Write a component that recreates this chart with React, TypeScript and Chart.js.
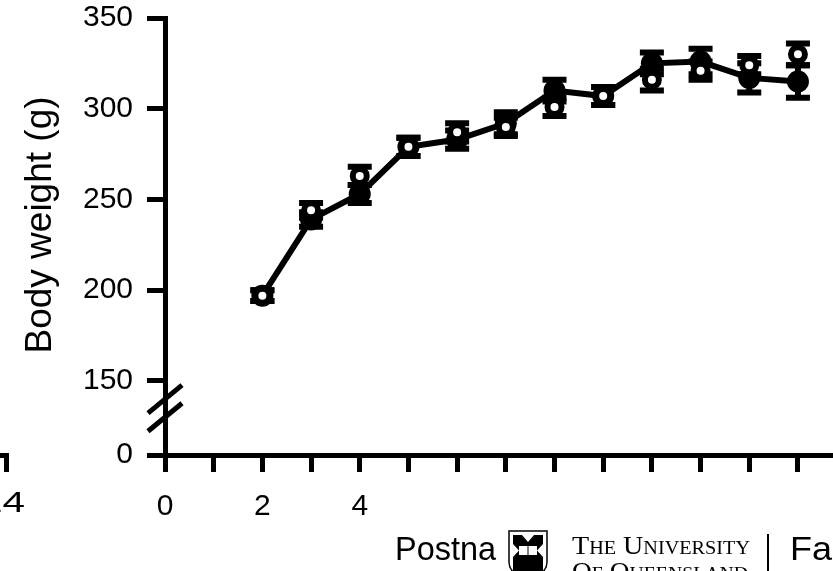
import React, { useEffect, useRef } from 'react';
import { Chart, registerables } from 'chart.js';

Chart.register(...registerables);

// ---- data ----
const weeks = [2, 3, 4, 5, 6, 7, 8, 9, 10, 11, 12, 13];
const filledMean = [197, 239, 253, 279, 283, 292, 310, 307, 325, 326, 317, 315];
const filledSem = [3, 4, 5, 5, 5, 6, 6, 5, 6, 7, 8, 9];
const openMean = [197, 244, 263, 279, 287, 290, 301, 307, 316, 321, 324, 330];
const openSem = [3, 4, 5, 5, 5, 5, 5, 5, 6, 5, 5, 6];

// ---- axes / ticks ----
const xTicks = [0, 1, 2, 3, 4, 5, 6, 7, 8, 9, 10, 11, 12, 13];
const xTickLabelWeeks = [0, 2, 4];
const yTickValues = [150, 200, 250, 300, 350];
const Y_BREAK_BASE = 109.2; // axis position that carries the "0" label (broken axis)
const Y_MAX = 350;
const X_MAX = 13.72;
const breakMarkValues = [140, 130];
const yTitle = 'Body weight (g)';

const FONT = '"Liberation Sans", Arial, Helvetica, sans-serif';
const SERIF = '"Liberation Serif", "Times New Roman", serif';

function drawFitText(ctx: CanvasRenderingContext2D, text: string, x: number, y: number, width: number) {
  const m = ctx.measureText(text).width;
  ctx.save();
  ctx.translate(x, y);
  ctx.scale(width / m, 1);
  ctx.fillText(text, 0, 0);
  ctx.restore();
}

export default function App() {
  const ref = useRef<HTMLCanvasElement>(null);

  useEffect(() => {
    const canvas = ref.current!;
    const sems = [openSem, filledSem];
    const means = [openMean, filledMean];

    const errorBars = {
      id: 'errorBars',
      beforeDatasetsDraw(chart: any) {
        const { ctx } = chart;
        const xs = chart.scales.x;
        const ys = chart.scales.y;
        ctx.save();
        ctx.strokeStyle = '#000';
        ctx.lineWidth = 6;
        ctx.lineCap = 'butt';
        for (let d = 0; d < means.length; d++) {
          for (let i = 0; i < weeks.length; i++) {
            const x = xs.getPixelForValue(weeks[i]);
            const yHi = ys.getPixelForValue(means[d][i] + sems[d][i]);
            const yLo = ys.getPixelForValue(means[d][i] - sems[d][i]);
            ctx.beginPath();
            ctx.moveTo(x, yHi);
            ctx.lineTo(x, yLo);
            ctx.moveTo(x - 12, yHi);
            ctx.lineTo(x + 12, yHi);
            ctx.moveTo(x - 12, yLo);
            ctx.lineTo(x + 12, yLo);
            ctx.stroke();
          }
        }
        ctx.restore();
      },
    };

    const decor = {
      id: 'decor',
      afterDraw(chart: any) {
        const { ctx, chartArea } = chart;
        const ys = chart.scales.y;
        ctx.save();
        // axis break marks
        ctx.strokeStyle = '#000';
        ctx.lineWidth = 5;
        for (const v of breakMarkValues) {
          const y = ys.getPixelForValue(v);
          const x = chartArea.left;
          ctx.beginPath();
          ctx.moveTo(x - 17, y + 14);
          ctx.lineTo(x + 17, y - 14);
          ctx.stroke();
        }
        ctx.fillStyle = '#000';

        // y axis title
        ctx.save();
        ctx.translate(41, 225);
        ctx.rotate(-Math.PI / 2);
        ctx.font = `37px ${FONT}`;
        ctx.textAlign = 'center';
        ctx.textBaseline = 'middle';
        ctx.fillText(yTitle, 0, 0);
        ctx.restore();

        // neighbouring panel remnants
        ctx.fillRect(0, 453, 9, 5);
        ctx.fillRect(4, 453, 5, 19);
        ctx.font = `30px ${FONT}`;
        ctx.textAlign = 'left';
        ctx.textBaseline = 'middle';
        {
          const w = ctx.measureText('14').width * 1.35;
          drawFitText(ctx, '14', 25 - w, 504, w);
        }

        // x axis title (partially covered)
        ctx.font = `33px ${FONT}`;
        drawFitText(ctx, 'Postna', 395, 551, 101);

        // logo crest
        ctx.lineWidth = 1.5;
        ctx.beginPath();
        ctx.moveTo(509, 531);
        ctx.lineTo(547, 531);
        ctx.lineTo(547, 562);
        ctx.quadraticCurveTo(547, 574, 528, 580);
        ctx.quadraticCurveTo(509, 574, 509, 562);
        ctx.closePath();
        ctx.stroke();
        ctx.fillRect(513, 535, 30, 40);
        ctx.fillStyle = '#fff';
        ctx.beginPath();
        ctx.moveTo(522, 535); ctx.lineTo(534, 535); ctx.lineTo(528, 542); ctx.closePath();
        ctx.moveTo(513, 544); ctx.lineTo(513, 557); ctx.lineTo(519, 550.5); ctx.closePath();
        ctx.moveTo(543, 544); ctx.lineTo(543, 557); ctx.lineTo(537, 550.5); ctx.closePath();
        ctx.fill();
        ctx.fillRect(519, 546, 18, 9);
        ctx.fillStyle = '#000';
        ctx.fillRect(527.5, 546, 1, 9);

        // university text
        ctx.font = `small-caps 25px ${SERIF}`;
        ctx.textBaseline = 'alphabetic';
        drawFitText(ctx, 'The University', 572, 554, 178);
        drawFitText(ctx, 'Of Queensland', 572, 580, 176);
        // separator
        ctx.fillRect(767, 534, 2, 37);
        // "Fa"
        ctx.font = `33px ${FONT}`;
        ctx.textBaseline = 'middle';
        drawFitText(ctx, 'Fa', 790, 551, 42);
        ctx.restore();
      },
    };

    const chart = new Chart(canvas, {
      type: 'line',
      data: {
        datasets: [
          {
            label: 'open',
            data: weeks.map((w, i) => ({ x: w, y: openMean[i] })),
            showLine: false,
            pointRadius: 7,
            pointBorderWidth: 6,
            pointBackgroundColor: '#fff',
            pointBorderColor: '#000',
            order: 0,
          },
          {
            label: 'filled',
            data: weeks.map((w, i) => ({ x: w, y: filledMean[i] })),
            borderColor: '#000',
            borderWidth: 6,
            tension: 0,
            pointRadius: 11,
            pointBorderWidth: 0,
            pointBackgroundColor: '#000',
            pointBorderColor: '#000',
            order: 1,
          },
        ],
      },
      options: {
        animation: false,
        responsive: false,
        devicePixelRatio: 1,
        events: [],
        layout: { autoPadding: false, padding: { top: 18, left: 0, right: 0, bottom: 0 } },
        plugins: { legend: { display: false }, tooltip: { enabled: false } },
        scales: {
          x: {
            type: 'linear',
            min: 0,
            max: X_MAX,
            afterFit: (s: any) => { s.height = 116; s.paddingLeft = 0; s.paddingRight = 0; },
            afterBuildTicks: (s: any) => { s.ticks = xTicks.map((v) => ({ value: v })); },
            border: { display: true, color: '#000', width: 5 },
            grid: { drawOnChartArea: false, drawTicks: true, tickLength: 17, tickWidth: 5, tickColor: '#000' },
            ticks: {
              autoSkip: false,
              maxRotation: 0,
              color: '#000',
              padding: 17,
              font: { family: FONT, size: 30 },
              callback: (v: any) => (xTickLabelWeeks.includes(Number(v)) ? String(v) : ''),
            },
          },
          y: {
            type: 'linear',
            min: Y_BREAK_BASE,
            max: Y_MAX,
            afterFit: (s: any) => { s.width = 165; s.paddingTop = 0; s.paddingBottom = 0; },
            afterBuildTicks: (s: any) => { s.ticks = [Y_BREAK_BASE, ...yTickValues].map((v) => ({ value: v })); },
            border: { display: true, color: '#000', width: 5 },
            grid: { drawOnChartArea: false, drawTicks: true, tickLength: 18, tickWidth: 5, tickColor: '#000' },
            title: { display: false },
            ticks: {
              color: '#000',
              padding: 14,
              font: { family: FONT, size: 30 },
              callback: (v: any) => (Number(v) === Y_BREAK_BASE ? '0' : String(v)),
            },
          },
        },
      },
      plugins: [errorBars, decor],
    } as any);

    return () => chart.destroy();
  }, []);

  return (
    <div style={{ position: 'absolute', left: 0, top: 0, width: 833, height: 571, background: '#fff' }}>
      <canvas ref={ref} width={833} height={571} style={{ display: 'block' }} />
    </div>
  );
}
